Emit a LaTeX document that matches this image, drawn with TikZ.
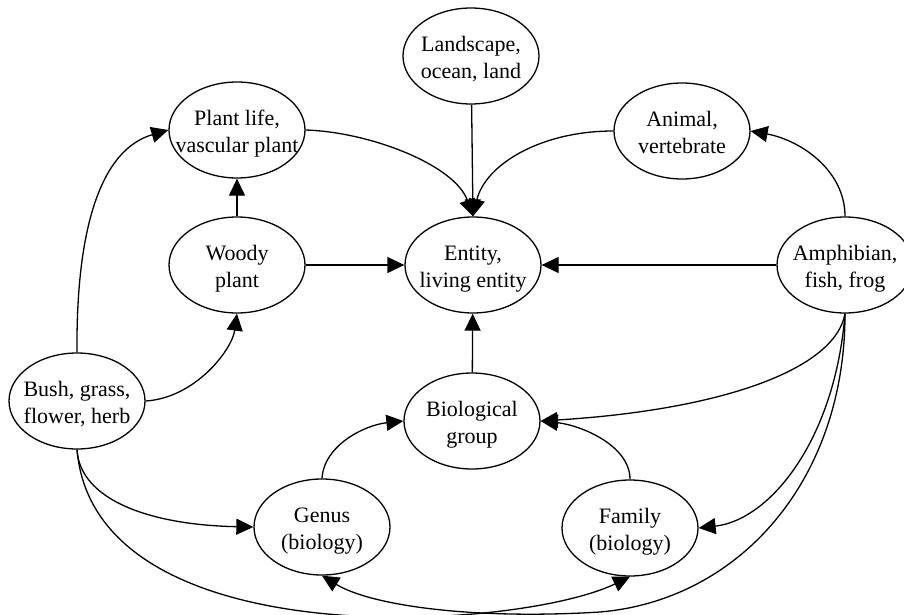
\documentclass[tikz,border=0pt]{standalone}
\usepackage{fontspec}
\setmainfont{Liberation Serif}
\usetikzlibrary{shapes.geometric,arrows.meta}
\begin{document}
\begin{tikzpicture}[x=1pt,y=-1pt,
  gnode/.style={ellipse,draw,line width=1.3pt,minimum width=136pt,minimum height=96pt,inner sep=0pt},
  glabel/.style={align=center,font=\fontsize{22}{27}\selectfont,inner sep=0pt,yshift=-4pt},
  arr/.style={line width=1.3pt,-{Triangle[length=17pt,width=16pt]}}]
\useasboundingbox (0,0) rectangle (904,615);
\fill[white] (0,0) rectangle (904,615);

% concepts
\node[gnode] (land)   at (471,56)  {};
\node[gnode] (plant)  at (237,130) {};
\node[gnode] (animal) at (682,131) {};
\node[gnode] (woody)  at (237,265) {};
\node[gnode] (ent)    at (473,265) {};
\node[gnode] (amph)   at (845,265) {};
\node[gnode] (bush)   at (77,401)  {};
\node[gnode] (bio)    at (472,421) {};
\node[gnode] (genus)  at (322,527) {};
\node[gnode] (family) at (630,528) {};

% their labels
\node[glabel] (land-t)   at (land)   {\strut Landscape,\\\strut ocean, land};
\node[glabel] (plant-t)  at (plant)  {\strut Plant life,\\\strut vascular plant};
\node[glabel] (animal-t) at (animal) {\strut Animal,\\\strut vertebrate};
\node[glabel] (woody-t)  at (woody)  {\strut Woody\\\strut plant};
\node[glabel] (ent-t)    at (ent)    {\strut Entity,\\\strut living entity};
\node[glabel] (amph-t)   at (amph)   {\strut Amphibian,\\\strut fish, frog};
\node[glabel] (bush-t)   at (bush)   {\strut Bush, grass,\\\strut flower, herb};
\node[glabel] (bio-t)    at (bio)    {\strut Biological\\\strut group};
\node[glabel] (genus-t)  at (genus)  {\strut Genus\\\strut (biology)};
\node[glabel] (family-t) at (family) {\strut Family\\\strut (biology)};

% is-a links
\draw[arr] (land) -- (ent.north);
\draw[arr] (plant.east) .. controls (370,132) and (455,165) .. (ent.north);
\draw[arr] (animal.west) .. controls (540,131) and (485,165) .. (ent.north);
\draw[arr] (woody) -- (ent);
\draw[arr] (amph) -- (ent);
\draw[arr] (woody) -- (plant);
\draw[arr] (bush.north) .. controls (76,230) and (100,150) .. (plant.west);
\draw[arr] (bush.east) .. controls (195,398) and (232,350) .. (woody.south);
\draw[arr] (amph.north) .. controls (845,170) and (800,140) .. (animal.east);
\draw[arr] (bio) -- (ent);
\draw[arr] (amph.south) .. controls (835,370) and (720,410) .. (bio.east);
\draw[arr] (genus.north) .. controls (324,445) and (365,425) .. (bio.west);
\draw[arr] (family.north) .. controls (630,445) and (580,425) .. (bio.east);
\draw[arr] (bush.south) .. controls (80,500) and (150,525) .. (genus.west);
\draw[arr] (amph.south) .. controls (835,440) and (770,520) .. (family.east);
\draw[arr] (bush.south) .. controls (95,660) and (520,630) .. (family.south);
\coordinate (low) at (600,612);
\draw[arr] (amph.south) .. controls (845,480) and (740,600) .. (low)
  .. controls (470,620) and (370,605) .. (genus.south);
\end{tikzpicture}
\end{document}
